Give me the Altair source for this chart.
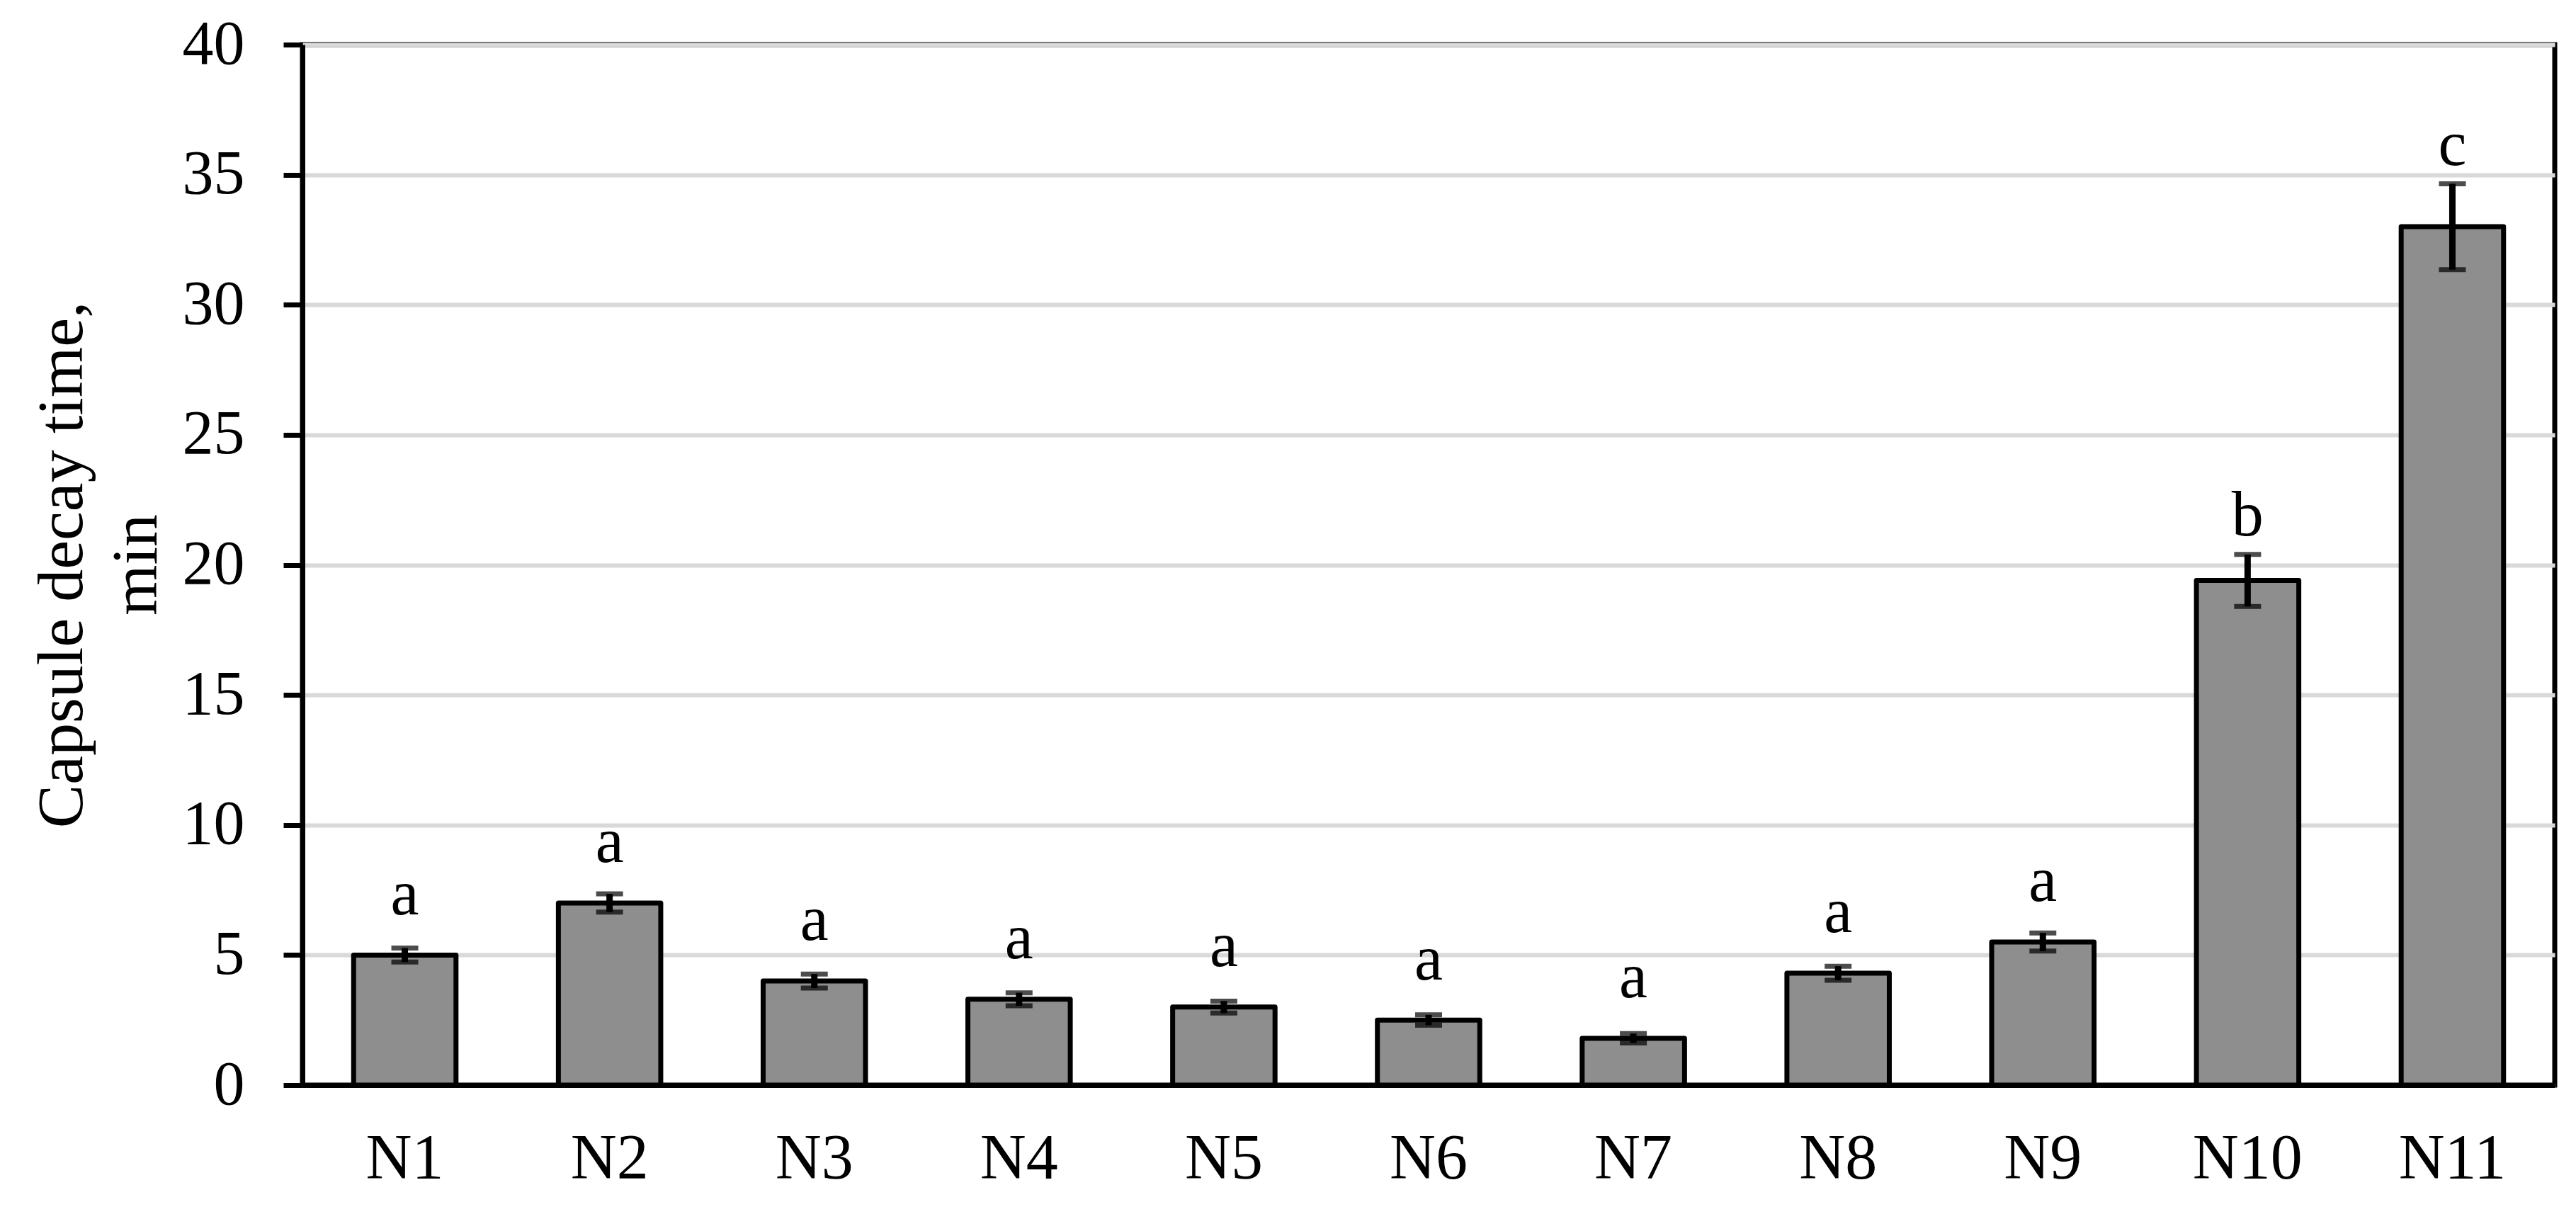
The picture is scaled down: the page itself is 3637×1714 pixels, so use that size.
import altair as alt
import pandas as pd

categories = ["N1", "N2", "N3", "N4", "N5", "N6", "N7", "N8", "N9", "N10", "N11"]
values = [5.0, 7.0, 4.0, 3.3, 3.0, 2.5, 1.8, 4.3, 5.5, 19.4, 33.0]
errors = [0.27, 0.35, 0.27, 0.25, 0.23, 0.2, 0.18, 0.27, 0.35, 1.0, 1.65]
letters = ["a", "a", "a", "a", "a", "a", "a", "a", "a", "b", "c"]
y_ticks = [0, 5, 10, 15, 20, 25, 30, 35, 40]
y_title = ["Capsule decay time,", "min"]

df = pd.DataFrame({"cat": categories, "val": values, "err": errors, "letter": letters})
df["lo"] = df["val"] - df["err"]
df["hi"] = df["val"] + df["err"]

FONT = "Liberation Serif"

x_enc = alt.X(
    "cat:N",
    sort=categories,
    scale=alt.Scale(paddingInner=0.5, paddingOuter=0.25),
    axis=alt.Axis(
        title=None,
        labelAngle=0,
        ticks=False,
        tickSize=0,
        domainColor="black",
        domainWidth=7,
        labelFont=FONT,
        labelFontSize=90,
        labelColor="black",
        labelPadding=60,
        grid=False,
    ),
)

y_scale = alt.Scale(domain=[0, 40], nice=False)

bars = alt.Chart(df).mark_bar(
    fill="#8e8e8e", stroke="black", strokeWidth=7, strokeJoin="round"
).encode(
    x=x_enc,
    y=alt.Y(
        "val:Q",
        scale=y_scale,
        axis=alt.Axis(
            values=y_ticks,
            grid=True,
            gridColor="#d9d9d9",
            gridWidth=6,
            domainColor="black",
            domainWidth=7,
            tickColor="black",
            tickWidth=7,
            tickSize=27,
            labelFont=FONT,
            labelFontSize=88,
            labelColor="black",
            labelPadding=55,
            title=y_title,
            titleFont=FONT,
            titleFontSize=92,
            titleFontWeight="normal",
            titleColor="black",
            titleAngle=-90,
            titleBaseline="bottom",
            titleAlign="center",
            titleLineHeight=105,
            titleX=-293,
            titleY=734,
        ),
    ),
)

stems = alt.Chart(df).mark_rule(color="black", strokeWidth=9).encode(
    x=alt.X("cat:N", sort=categories),
    y=alt.Y("lo:Q", scale=y_scale),
    y2="hi:Q",
)

caps_hi = alt.Chart(df).mark_tick(color="black", thickness=7, size=38, orient="horizontal").encode(
    x=alt.X("cat:N", sort=categories),
    y=alt.Y("hi:Q", scale=y_scale),
)

caps_lo = alt.Chart(df).mark_tick(color="black", thickness=7, size=38, orient="horizontal").encode(
    x=alt.X("cat:N", sort=categories),
    y=alt.Y("lo:Q", scale=y_scale),
)

# letters sit a fixed distance above the bar, lifted further when the error bar is tall
labels = alt.Chart(df).transform_calculate(
    lab="max(datum.val + 1.57, datum.hi + 0.72)"
).mark_text(
    font=FONT, fontSize=90, color="black", baseline="alphabetic"
).encode(
    x=alt.X("cat:N", sort=categories),
    y=alt.Y("lab:Q", scale=y_scale),
    text="letter:N",
)

chart = (
    alt.layer(bars, stems, caps_hi, caps_lo, labels)
    .properties(
        width=3180,
        height=1469,
        autosize=alt.AutoSizeParams(type="none"),
        padding={"left": 419, "top": 55, "right": 22, "bottom": 170},
        background="white",
    )
    .configure_view(stroke="black", strokeWidth=7)
)

chart.save("out.html", embed_options={"renderer": "svg", "actions": False})
